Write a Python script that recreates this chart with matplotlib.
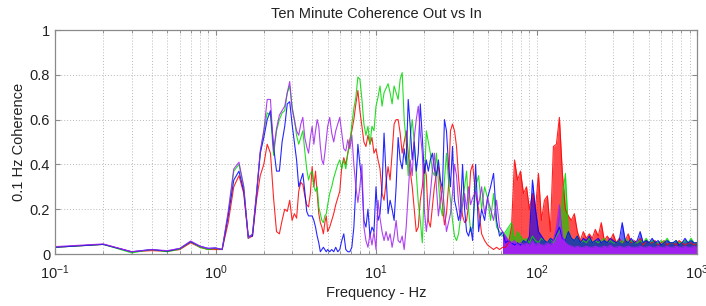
import numpy as np
import matplotlib
matplotlib.use('Agg')
import matplotlib.pyplot as plt
from matplotlib.ticker import FixedLocator, FixedFormatter, LogLocator

plt.rcParams['font.family'] = ['Liberation Sans', 'DejaVu Sans']
plt.rcParams['mathtext.fontset'] = 'custom'
plt.rcParams['mathtext.rm'] = 'Liberation Sans'
plt.rcParams['mathtext.it'] = 'Liberation Sans'

# frequency grids (Hz): 0.1 Hz steps at the low end, log steps above 5 Hz
freq_a = np.round(np.arange(1, 50) * 0.1, 1)          # 0.1 .. 4.9
freq_b = np.geomspace(5, 40, 73)                        # 5 .. 40
freq_c = np.geomspace(40, 1000, 76)[1:]                 # >40 .. 1000

# coherence values
red_a = [.03, .043, .01, .015, .012, .02, .05, .03, .02, .02,
         .02, .14, .30, .35, .27, .07, .08, .24, .35, .40,
         .49, .45, .25, .10, .09, .15, .20, .19, .24, .15,
         .18, .16, .28, .32, .31, .26, .22, .21, .27, .39,
         .30, .37, .27, .18, .14, .12, .09, .14, .17]
green_a = [.03, .043, .005, .02, .01, .022, .055, .03, .02, .025,
           .02, .18, .37, .40, .30, .07, .09, .27, .45, .55,
           .63, .62, .44, .55, .60, .63, .64, .72, .75, .66,
           .60, .53, .49, .52, .55, .46, .38, .33, .36, .37,
           .30, .28, .30, .21, .18, .15, .14, .17, .18]
blue_a = [.03, .043, .01, .02, .013, .025, .055, .035, .025, .027,
          .02, .17, .33, .37, .28, .08, .08, .26, .45, .52,
          .60, .64, .48, .37, .37, .50, .57, .67, .68, .58,
          .50, .42, .30, .33, .36, .28, .19, .17, .17, .17,
          .15, .12, .08, .05, .01, .02, .03, .02, .01]
purple_a = [.033, .045, .01, .02, .015, .025, .058, .035, .025, .027,
            .02, .19, .38, .41, .30, .07, .09, .27, .46, .55,
            .69, .69, .46, .56, .62, .64, .66, .72, .77, .65,
            .60, .55, .53, .58, .61, .52, .48, .45, .52, .57,
            .49, .55, .60, .57, .48, .42, .40, .45, .51]

red_b = [.10, .12, .15, .18, .22, .25, .28, .39, .43, .40,
         .45, .51, .55, .60, .67, .73, .64, .57, .50, .48,
         .53, .49, .52, .45, .47, .42, .38, .27, .24, .32,
         .39, .33, .45, .58, .60, .60, .54, .45, .50, .55,
         .45, .37, .30, .20, .10, .12, .24, .30, .40, .35,
         .15, .12, .21, .30, .36, .39, .30, .22, .13, .18,
         .30, .55, .58, .55, .48, .34, .24, .17, .14, .15,
         .22, .37, .40]
green_b = [.22, .27, .30, .34, .37, .40, .42, .38, .42, .38,
           .45, .49, .58, .65, .70, .79, .78, .69, .58, .53,
           .57, .49, .57, .55, .66, .70, .75, .66, .72, .74,
           .76, .72, .67, .75, .72, .69, .78, .81, .60, .50,
           .35, .52, .60, .50, .36, .23, .15, .05, .30, .55,
           .50, .45, .37, .35, .45, .32, .21, .17, .33, .45,
           .33, .24, .15, .08, .06, .09, .16, .25, .30, .37,
           .20, .10, .12]
blue_b = [.02, .01, .02, .01, .03, .01, .02, .06, .09, .02,
          .01, .01, .03, .12, .30, .49, .40, .33, .15, .12,
          .20, .08, .12, .10, .30, .15, .18, .30, .54, .35,
          .18, .24, .20, .15, .30, .52, .42, .38, .47, .40,
          .69, .57, .42, .50, .37, .45, .67, .52, .36, .42,
          .37, .42, .45, .38, .35, .42, .33, .29, .60, .55,
          .40, .30, .48, .24, .20, .15, .19, .40, .20, .10,
          .08, .12, .06]
purple_b = [.57, .61, .54, .50, .55, .58, .61, .54, .47, .46,
            .51, .47, .53, .40, .30, .23, .30, .40, .12, .06,
            .03, .09, .04, .10, .02, .24, .16, .10, .06, .10,
            .06, .09, .03, .08, .15, .06, .05, .08, .02, .12,
            .27, .42, .35, .52, .60, .66, .54, .45, .20, .10,
            .18, .27, .37, .45, .30, .17, .24, .30, .20, .10,
            .14, .18, .27, .40, .35, .23, .15, .22, .27, .20,
            .30, .22, .25]

red_c = [.27, .20, .09, .06, .04, .03, .02, .03, .02, .03,
         .03, .05, .12, .42, .33, .37, .27, .30, .20, .27,
         .20, .36, .15, .24, .26, .10, .48, .49, .61, .36,
         .20, .17, .15, .18, .10, .06, .10, .07, .09, .07,
         .11, .08, .14, .06, .08, .06, .09, .05, .07, .05,
         .06, .09, .05, .06, .05, .07, .04, .06, .05, .05,
         .06, .04, .05, .06, .04, .05, .05, .04, .06, .05,
         .04, .05, .05, .04, .05]
green_c = [.30, .35, .20, .30, .25, .15, .27, .12, .10, .08,
           .10, .12, .14, .06, .10, .08, .06, .07, .05, .08,
           .06, .05, .07, .06, .05, .07, .05, .08, .10, .25,
           .36, .10, .07, .06, .08, .05, .06, .05, .07, .05,
           .06, .05, .06, .07, .05, .06, .05, .05, .06, .05,
           .07, .05, .06, .05, .05, .06, .05, .07, .05, .06,
           .05, .05, .06, .05, .07, .05, .05, .06, .05, .05,
           .06, .05, .07, .05, .05]
blue_c = [.40, .10, .20, .15, .25, .30, .36, .15, .08, .10,
          .05, .06, .05, .04, .05, .04, .06, .05, .08, .33,
          .20, .10, .08, .06, .05, .07, .06, .09, .12, .07,
          .06, .10, .07, .06, .08, .05, .07, .06, .08, .05,
          .06, .07, .05, .06, .05, .07, .06, .05, .06, .14,
          .06, .05, .07, .05, .06, .10, .05, .06, .05, .07,
          .05, .06, .04, .05, .06, .05, .05, .06, .04, .05,
          .07, .05, .06, .05, .05]
purple_c = [.28, .22, .30, .18, .25, .20, .15, .24, .12, .10,
            .08, .06, .05, .06, .04, .05, .04, .05, .04, .06,
            .04, .05, .04, .04, .05, .04, .06, .12, .22, .08,
            .05, .04, .035, .03, .035, .03, .03, .035, .03, .03,
            .035, .03, .03, .035, .03, .04, .03, .03, .035, .03,
            .03, .035, .03, .03, .03, .035, .03, .03, .035, .03,
            .03, .035, .03, .03, .035, .03, .03, .035, .03, .03,
            .035, .03, .03, .035, .03]

# colour, values per band, fill alpha in the dense part above 60 Hz
series = [
    ('#ff0000', red_a, red_b, red_c, 0.7),
    ('#00d800', green_a, green_b, green_c, 0.6),
    ('#0000ff', blue_a, blue_b, blue_c, 0.6),
    ('#a020f0', purple_a, purple_b, purple_c, 1.0),
]

fig = plt.figure(figsize=(7.06, 3.06), dpi=100)
ax = fig.add_axes([55 / 706, 52 / 306, 642 / 706, 224 / 306])

freq = np.concatenate([freq_a, freq_b, freq_c])
dense = freq_c >= 60
for color, ya, yb, yc, fa in series:
    y = np.concatenate([ya, yb, yc])
    yc = np.asarray(yc)
    ax.plot(freq, y, color=color, lw=0.8, alpha=0.85)
    ax.fill_between(freq_c[dense], 0, yc[dense], color=color, lw=0, alpha=fa)

ax.set_xscale('log')
ax.set_xlim(0.1, 1000)
ax.set_ylim(0, 1)

ax.xaxis.set_major_locator(LogLocator(base=10))
ax.xaxis.set_minor_locator(LogLocator(base=10, subs=np.arange(2, 10)))
ax.yaxis.set_major_locator(FixedLocator([0, 0.2, 0.4, 0.6, 0.8, 1]))
ax.yaxis.set_major_formatter(FixedFormatter(['0', '0.2', '0.4', '0.6', '0.8', '1']))

ax.grid(True, which='major', color='#b8b8b8', linestyle=(0, (1, 2)), lw=0.7)
ax.grid(True, which='minor', axis='x', color='#b8b8b8', linestyle=(0, (1, 2)), lw=0.7)
ax.set_axisbelow(True)

for sp in ax.spines.values():
    sp.set_color('#8a8a8a')
    sp.set_linewidth(0.9)
ax.tick_params(which='both', direction='in', top=True, right=True, color='#8a8a8a',
               labelsize=10.5, labelcolor='#222222')
ax.tick_params(which='major', length=3.5)
ax.tick_params(axis='x', which='major', pad=7)
ax.tick_params(which='minor', length=2)

ax.set_title('Ten Minute Coherence Out vs In', fontsize=10.5, color='#222222', pad=9)
ax.set_xlabel('Frequency - Hz', fontsize=10.5, color='#222222', labelpad=3)
ax.set_ylabel('0.1 Hz Coherence', fontsize=10.5, color='#222222', labelpad=3)

fig.savefig('out.png', dpi=100)
